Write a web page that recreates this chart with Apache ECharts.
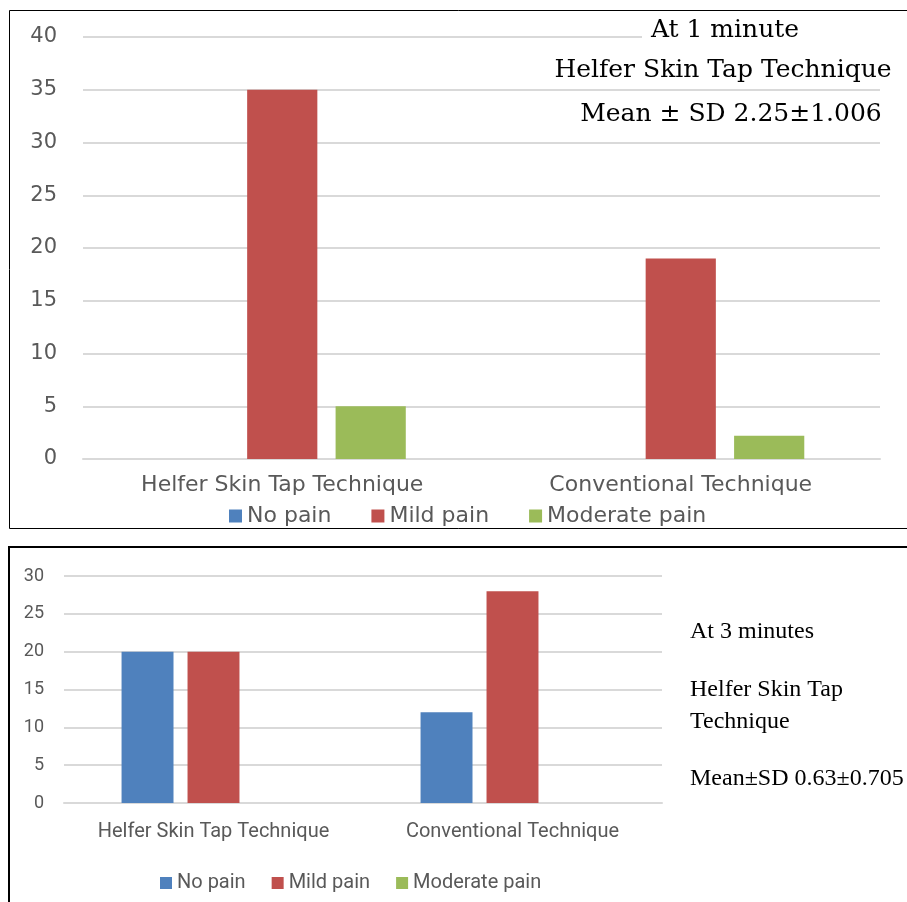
<!DOCTYPE html>
<html>
<head>
<meta charset="utf-8">
<script src="https://cdn.jsdelivr.net/npm/echarts@6/dist/echarts.min.js"></script>
<style>
html,body{margin:0;padding:0;background:#fff;}
#c{width:907px;height:902px;}
</style>
</head>
<body>
<div id="c"></div>
<script>
var categories = ['Helfer Skin Tap Technique', 'Conventional Technique'];
var seriesNames = ['No pain', 'Mild pain', 'Moderate pain'];
var colors = ['#4F81BD', '#C0504D', '#9BBB59'];

// At 1 minute
var min1NoPain = [0, 0];
var min1Mild = [35, 19];
var min1Moderate = [5, 2.2];

// At 3 minutes
var min3NoPain = [20, 12];
var min3Mild = [20, 28];
var min3Moderate = [0, 0];

var topYTicks = {min: 0, max: 40, interval: 5};
var botYTicks = {min: 0, max: 30, interval: 5};

var topNotes = ['At 1 minute', 'Helfer Skin Tap Technique', 'Mean \u00b1 SD 2.25\u00b11.006'];
var botNotes = ['At 3 minutes', 'Helfer Skin Tap', 'Technique', 'Mean\u00b1SD 0.63\u00b10.705'];

var chart = echarts.init(document.getElementById('c'), null, {renderer: 'canvas'});

function mk(name, data, idx, gridIdx, gap, catGap) {
  return {
    type: 'bar', name: name, data: data,
    xAxisIndex: gridIdx, yAxisIndex: gridIdx,
    barGap: gap, barCategoryGap: catGap,
    itemStyle: {color: colors[idx], borderWidth: 0},
    silent: true
  };
}

var topFont = 'DejaVu Sans';
var botFont = 'Roboto, sans-serif';

var option = {
  animation: false,
  backgroundColor: '#ffffff',
  grid: [
    {left: 83, right: 27, top: 37, bottom: 443},
    {left: 64, right: 245, top: 576, bottom: 99}
  ],
  xAxis: [
    {type: 'category', gridIndex: 0, data: categories,
     axisLine: {show: true, lineStyle: {color: '#D9D9D9', width: 2}},
     axisTick: {show: false},
     axisLabel: {interval: 0, color: '#595959', fontFamily: topFont, fontSize: 22, margin: 15}},
    {type: 'category', gridIndex: 1, data: categories,
     axisLine: {show: true, lineStyle: {color: '#D9D9D9', width: 2}},
     axisTick: {show: false},
     axisLabel: {interval: 0, color: '#595959', fontFamily: botFont, fontSize: 20, margin: 19}}
  ],
  yAxis: [
    {type: 'value', gridIndex: 0, min: topYTicks.min, max: topYTicks.max, interval: topYTicks.interval,
     axisLine: {show: false}, axisTick: {show: false},
     splitLine: {lineStyle: {color: '#D9D9D9', width: 2}},
     axisLabel: {color: '#595959', fontFamily: topFont, fontSize: 21, margin: 26}},
    {type: 'value', gridIndex: 1, min: botYTicks.min, max: botYTicks.max, interval: botYTicks.interval,
     axisLine: {show: false}, axisTick: {show: false},
     splitLine: {lineStyle: {color: '#D9D9D9', width: 2}},
     axisLabel: {color: '#595959', fontFamily: botFont, fontSize: 18, margin: 20}}
  ],
  legend: [
    {data: seriesNames, top: 500, left: 224, itemWidth: 13, itemHeight: 13, itemGap: 40,
     icon: 'rect', selectedMode: false,
     textStyle: {color: '#595959', fontFamily: topFont, fontSize: 22}},
    {data: seriesNames, top: 868, left: 155, itemWidth: 12, itemHeight: 12, itemGap: 26,
     icon: 'rect', selectedMode: false,
     textStyle: {color: '#595959', fontFamily: botFont, fontSize: 20}}
  ],
  series: [
    mk(seriesNames[0], min1NoPain, 0, 0, '26%', '38%'),
    mk(seriesNames[1], min1Mild, 1, 0, '26%', '38%'),
    mk(seriesNames[2], min1Moderate, 2, 0, '26%', '38%'),
    mk(seriesNames[0], min3NoPain, 0, 1, '27%', '38.5%'),
    mk(seriesNames[1], min3Mild, 1, 1, '27%', '38.5%'),
    mk(seriesNames[2], min3Moderate, 2, 1, '27%', '38.5%')
  ],
  graphic: [
    {type: 'rect', shape: {x: 9.5, y: 10.5, width: 920, height: 518}, style: {fill: 'none', stroke: '#000', lineWidth: 1}, z: 100, silent: true},
    {type: 'rect', shape: {x: 9, y: 547, width: 920, height: 400}, style: {fill: 'none', stroke: '#000', lineWidth: 2}, z: 100, silent: true},
    {type: 'rect', shape: {x: 642, y: 25, width: 250, height: 20}, style: {fill: '#fff'}, z: 50, silent: true},
    {type: 'text', x: 725, y: 30, style: {text: topNotes[0], fontFamily: 'DejaVu Serif', fontSize: 25, fill: '#000', textAlign: 'center', textVerticalAlign: 'middle'}, z: 60},
    {type: 'text', x: 723, y: 70, style: {text: topNotes[1], fontFamily: 'DejaVu Serif', fontSize: 25, fill: '#000', textAlign: 'center', textVerticalAlign: 'middle'}, z: 60},
    {type: 'text', x: 731, y: 114, style: {text: topNotes[2], fontFamily: 'DejaVu Serif', fontSize: 25, fill: '#000', textAlign: 'center', textVerticalAlign: 'middle'}, z: 60},
    {type: 'text', x: 690, y: 632, style: {text: botNotes[0], fontFamily: 'Liberation Serif', fontSize: 24, fill: '#000', textAlign: 'left', textVerticalAlign: 'middle'}, z: 60},
    {type: 'text', x: 690, y: 690, style: {text: botNotes[1], fontFamily: 'Liberation Serif', fontSize: 24, fill: '#000', textAlign: 'left', textVerticalAlign: 'middle'}, z: 60},
    {type: 'text', x: 690, y: 722, style: {text: botNotes[2], fontFamily: 'Liberation Serif', fontSize: 24, fill: '#000', textAlign: 'left', textVerticalAlign: 'middle'}, z: 60},
    {type: 'text', x: 690, y: 779, style: {text: botNotes[3], fontFamily: 'Liberation Serif', fontSize: 24, fill: '#000', textAlign: 'left', textVerticalAlign: 'middle'}, z: 60}
  ]
};
chart.setOption(option);
</script>
</body>
</html>
